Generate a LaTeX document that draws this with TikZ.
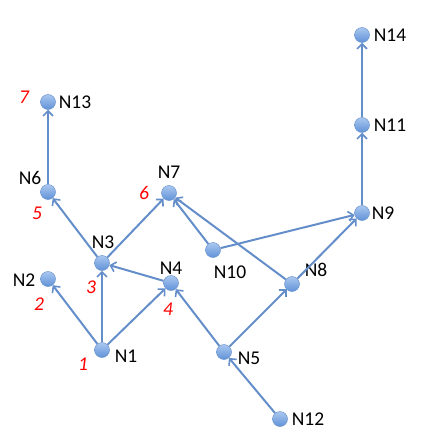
\documentclass[tikz,border=0pt]{standalone}
\usepackage{fontspec}
\setmainfont{Carlito}
\usetikzlibrary{arrows.meta}

\definecolor{edgeblue}{RGB}{100,142,202}
\definecolor{balltop}{RGB}{170,200,240}
\definecolor{ballbot}{RGB}{95,145,215}
\definecolor{ballrim}{RGB}{110,150,205}

\tikzset{
    vtx/.style={circle, minimum size=15pt, inner sep=0pt, draw=ballrim, line width=0.5pt,
        top color=balltop, bottom color=ballbot},
    lbl/.style={inner sep=0pt, font=\fontsize{19.5}{22}\selectfont},
    num/.style={inner sep=0pt, text=red, font=\fontsize{19.5}{22}\selectfont\itshape},
    link/.style={-{Straight Barb[length=5pt, width=10pt, line width=1.6pt]}, edgeblue, line width=2pt}
}

\begin{document}
\begin{tikzpicture}[x=1pt, y=-1pt]

    \useasboundingbox (0,0) rectangle (422,444);

    % ================= vertices =================
    \node[vtx] (n1)  at (102,350) {};
    \node[vtx] (n2)  at (48,279)  {};
    \node[vtx] (n3)  at (102,263) {};
    \node[vtx] (n4)  at (171,283) {};
    \node[vtx] (n5)  at (224,352) {};
    \node[vtx] (n6)  at (48,192)  {};
    \node[vtx] (n7)  at (169,193) {};
    \node[vtx] (n8)  at (292,284) {};
    \node[vtx] (n9)  at (362,213) {};
    \node[vtx] (n10) at (213,250) {};
    \node[vtx] (n11) at (362,125) {};
    \node[vtx] (n12) at (280,419) {};
    \node[vtx] (n13) at (48,102)  {};
    \node[vtx] (n14) at (362,35)  {};

    % ================= names =================
    \node[lbl] (t1)  at (126,356) {N1};
    \node[lbl] (t2)  at (24,280)  {N2};
    \node[lbl] (t3)  at (103,242) {N3};
    \node[lbl] (t4)  at (171,268) {N4};
    \node[lbl] (t5)  at (249,358) {N5};
    \node[lbl] (t6)  at (30,178)  {N6};
    \node[lbl] (t7)  at (169,172) {N7};
    \node[lbl] (t8)  at (316,270) {N8};
    \node[lbl] (t9)  at (383,213) {N9};
    \node[lbl] (t10) at (230,272) {N10};
    \node[lbl] (t11) at (390,125) {N11};
    \node[lbl] (t12) at (308,419) {N12};
    \node[lbl] (t13) at (75,102)  {N13};
    \node[lbl] (t14) at (390,35)  {N14};

    % ================= order numbers =================
    \node[num] (k1) at (83,364) {1};
    \node[num] (k2) at (39,304) {2};
    \node[num] (k3) at (91,287) {3};
    \node[num] (k4) at (168,309) {4};
    \node[num] (k5) at (37,213) {5};
    \node[num] (k6) at (144,193) {6};
    \node[num] (k7) at (24,97)  {7};

    % ================= edges =================
    \foreach \a/\b in {n1/n2, n1/n3, n1/n4, n4/n3, n3/n6, n3/n7, n6/n13,
                       n5/n4, n5/n8, n12/n5, n8/n7, n8/n9, n10/n7, n10/n9,
                       n9/n11, n11/n14}
        \draw[link] (\a) -- (\b);

\end{tikzpicture}
\end{document}
